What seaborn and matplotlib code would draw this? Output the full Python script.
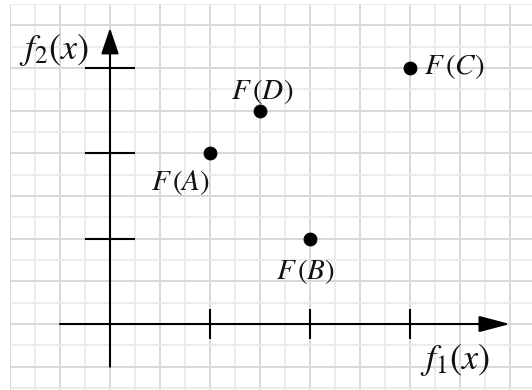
import numpy as np
import pandas as pd
import matplotlib
matplotlib.use('Agg')
import matplotlib.pyplot as plt
import seaborn as sns

# point data (f1, f2)
names = ['A', 'B', 'C', 'D']
f1_vals = [1.0, 2.0, 3.0, 1.5]
f2_vals = [2.0, 1.0, 3.0, 2.5]
x_ticks = [1, 2, 3]
y_ticks = [1, 2, 3]

df = pd.DataFrame({'name': names, 'f1': f1_vals, 'f2': f2_vals})

sns.set_style('white')
plt.rcParams['mathtext.fontset'] = 'stix'
plt.rcParams['font.family'] = ['DejaVu Sans']

fig = plt.figure(figsize=(5.32, 3.90), dpi=100)
# axes covers the squared-paper area (open to the right edge)
ax = fig.add_axes([10 / 532, 0, 522 / 532, 386 / 390])
ax.set_xlim(-1, 4.22)
ax.set_ylim(-0.773, 3.75)

# squared paper
ax.set_xticks(np.arange(-1, 4.01, 0.5))
ax.set_yticks(np.arange(-0.5, 3.76, 0.5))
ax.set_xticks(np.arange(-1, 4.01, 0.25), minor=True)
ax.set_yticks(np.arange(-0.75, 3.76, 0.25), minor=True)
ax.grid(which='minor', color='#eaeaea', lw=1.3)
ax.grid(which='major', color='#d8d8d8', lw=1.4)
ax.tick_params(which='both', length=0, labelbottom=False, labelleft=False)
for s in ax.spines.values():
    s.set_visible(False)
ax.set_axisbelow(True)

# axes with arrows
ax.annotate('', xy=(4.0, 0), xytext=(-0.5, 0),
            arrowprops=dict(arrowstyle='-|>,head_length=0.95,head_width=0.25',
                            mutation_scale=20, lw=1.5, color='black',
                            shrinkA=0, shrinkB=0), annotation_clip=False)
ax.annotate('', xy=(0, 3.47), xytext=(0, -0.5),
            arrowprops=dict(arrowstyle='-|>,head_length=0.8,head_width=0.27',
                            mutation_scale=20, lw=1.5, color='black',
                            shrinkA=0, shrinkB=0), annotation_clip=False)

# tick marks
ax.vlines(x_ticks, -0.176, 0.176, color='black', lw=1.5)
ax.hlines(y_ticks, -0.25, 0.25, color='black', lw=1.5)

sns.scatterplot(data=df, x='f1', y='f2', color='black', edgecolor='black',
                s=85, ax=ax, legend=False, zorder=5)
ax.set_xlabel('')
ax.set_ylabel('')

# label positions
lab_pos = {'A': (0.705, 1.66, 'center'), 'B': (1.96, 0.61, 'center'),
           'C': (3.135, 3.02, 'left'), 'D': (1.525, 2.72, 'center')}
for n in names:
    x, y, ha = lab_pos[n]
    ax.text(x, y, '$F\\,(%s)$' % n, fontsize=21, ha=ha, va='center',
            color='#111111', zorder=6)

ax.text(-0.555, 3.21, '$f_2(x)$', fontsize=26, ha='center', va='center',
        color='#111111')
ax.text(3.455, -0.42, '$f_1(x)$', fontsize=26, ha='center', va='center',
        color='#111111')

fig.savefig('out.png', dpi=100)
